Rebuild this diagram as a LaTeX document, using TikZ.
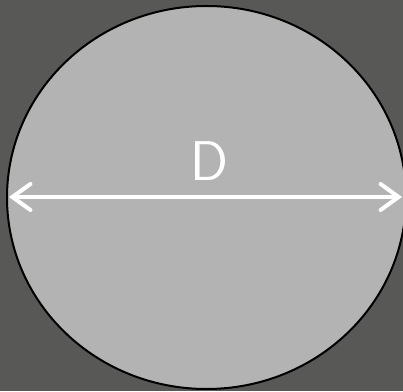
\documentclass[tikz,border=0pt]{standalone}
\usepackage{tikz}
\usetikzlibrary{arrows.meta}
\definecolor{bgdark}{RGB}{88,88,86}
\definecolor{disk}{RGB}{179,179,179}

\begin{document}
\begin{tikzpicture}[x=1pt,y=1pt]
	\useasboundingbox (0,0) rectangle (403,391);
	\clip (0,0) rectangle (403,391);
	\fill[bgdark] (0,0) rectangle (403,391);
	\coordinate (O) at (206.5,193.5);
	\filldraw[fill=disk,draw=black,line width=2pt] (O) ellipse [x radius=199.5,y radius=191.5];
	\coordinate (L) at (9,194);
	\coordinate (R) at (402,194);
	\draw[white,line width=4pt,line cap=round,
		{Straight Barb[length=18pt,width=26pt,line cap=round]}-{Straight Barb[length=18pt,width=26pt,line cap=round]}] (L) -- (R);
	\node[white,font=\sffamily\fontsize{56}{56}\selectfont] (dlabel) at (209,230) {D};
\end{tikzpicture}
\end{document}
